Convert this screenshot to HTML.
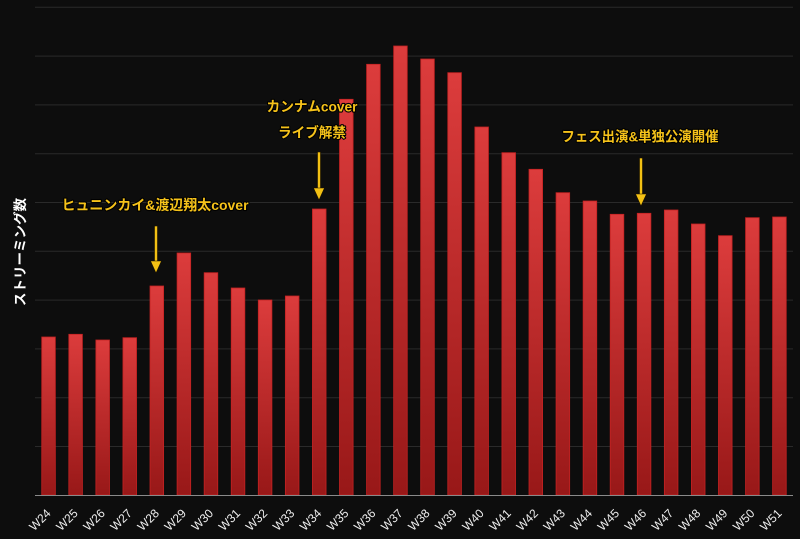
<!DOCTYPE html>
<html>
<head>
<meta charset="utf-8">
<style>
html,body{margin:0;padding:0;background:#0d0d0d;}
svg{display:block;}
</style>
</head>
<body>
<svg width="800" height="539" viewBox="0 0 800 539" xmlns="http://www.w3.org/2000/svg">
<defs>
<linearGradient id="bg" x1="0" y1="0" x2="0" y2="1">
<stop offset="0" stop-color="#dc3c3c"/>
<stop offset="1" stop-color="#981818"/>
</linearGradient>
</defs>
<rect x="0" y="0" width="800" height="539" fill="#0d0d0d"/>
<g stroke="#2a2a2a" stroke-width="1">
<line x1="35" x2="793" y1="7.3" y2="7.3"/>
<line x1="35" x2="793" y1="56.1" y2="56.1"/>
<line x1="35" x2="793" y1="104.9" y2="104.9"/>
<line x1="35" x2="793" y1="153.7" y2="153.7"/>
<line x1="35" x2="793" y1="202.5" y2="202.5"/>
<line x1="35" x2="793" y1="251.3" y2="251.3"/>
<line x1="35" x2="793" y1="300.1" y2="300.1"/>
<line x1="35" x2="793" y1="348.9" y2="348.9"/>
<line x1="35" x2="793" y1="397.7" y2="397.7"/>
<line x1="35" x2="793" y1="446.5" y2="446.5"/>
</g>
<g fill="url(#bg)" stroke="#c42222" stroke-width="0.8">
<rect x="41.74" y="337" width="13.6" height="158"/>
<rect x="68.81" y="334.3" width="13.6" height="160.7"/>
<rect x="95.88" y="340" width="13.6" height="155"/>
<rect x="122.95" y="337.7" width="13.6" height="157.3"/>
<rect x="150.02" y="286" width="13.6" height="209"/>
<rect x="177.09" y="253" width="13.6" height="242"/>
<rect x="204.16" y="272.7" width="13.6" height="222.3"/>
<rect x="231.23" y="288" width="13.6" height="207"/>
<rect x="258.30" y="300" width="13.6" height="195"/>
<rect x="285.37" y="296" width="13.6" height="199"/>
<rect x="312.44" y="209" width="13.6" height="286"/>
<rect x="339.51" y="99.3" width="13.6" height="395.7"/>
<rect x="366.58" y="64.3" width="13.6" height="430.7"/>
<rect x="393.65" y="46" width="13.6" height="449"/>
<rect x="420.72" y="59" width="13.6" height="436"/>
<rect x="447.79" y="72.7" width="13.6" height="422.3"/>
<rect x="474.86" y="127" width="13.6" height="368"/>
<rect x="501.93" y="152.7" width="13.6" height="342.3"/>
<rect x="529.00" y="169.3" width="13.6" height="325.7"/>
<rect x="556.07" y="192.7" width="13.6" height="302.3"/>
<rect x="583.14" y="201" width="13.6" height="294"/>
<rect x="610.21" y="214.3" width="13.6" height="280.7"/>
<rect x="637.28" y="213.3" width="13.6" height="281.7"/>
<rect x="664.35" y="210" width="13.6" height="285"/>
<rect x="691.42" y="224" width="13.6" height="271"/>
<rect x="718.49" y="235.7" width="13.6" height="259.3"/>
<rect x="745.56" y="217.7" width="13.6" height="277.3"/>
<rect x="772.63" y="217" width="13.6" height="278"/>
</g>
<line x1="35" x2="793" y1="495.5" y2="495.5" stroke="#8a8a8a" stroke-width="1"/>
<g font-family="Liberation Sans, sans-serif" font-size="12" fill="#eeeeee" text-anchor="end">
<text transform="translate(51.54,514) rotate(-45)">W24</text>
<text transform="translate(78.61,514) rotate(-45)">W25</text>
<text transform="translate(105.68,514) rotate(-45)">W26</text>
<text transform="translate(132.75,514) rotate(-45)">W27</text>
<text transform="translate(159.82,514) rotate(-45)">W28</text>
<text transform="translate(186.89,514) rotate(-45)">W29</text>
<text transform="translate(213.96,514) rotate(-45)">W30</text>
<text transform="translate(241.03,514) rotate(-45)">W31</text>
<text transform="translate(268.10,514) rotate(-45)">W32</text>
<text transform="translate(295.17,514) rotate(-45)">W33</text>
<text transform="translate(322.24,514) rotate(-45)">W34</text>
<text transform="translate(349.31,514) rotate(-45)">W35</text>
<text transform="translate(376.38,514) rotate(-45)">W36</text>
<text transform="translate(403.45,514) rotate(-45)">W37</text>
<text transform="translate(430.52,514) rotate(-45)">W38</text>
<text transform="translate(457.59,514) rotate(-45)">W39</text>
<text transform="translate(484.66,514) rotate(-45)">W40</text>
<text transform="translate(511.73,514) rotate(-45)">W41</text>
<text transform="translate(538.80,514) rotate(-45)">W42</text>
<text transform="translate(565.87,514) rotate(-45)">W43</text>
<text transform="translate(592.94,514) rotate(-45)">W44</text>
<text transform="translate(620.01,514) rotate(-45)">W45</text>
<text transform="translate(647.08,514) rotate(-45)">W46</text>
<text transform="translate(674.15,514) rotate(-45)">W47</text>
<text transform="translate(701.22,514) rotate(-45)">W48</text>
<text transform="translate(728.29,514) rotate(-45)">W49</text>
<text transform="translate(755.36,514) rotate(-45)">W50</text>
<text transform="translate(782.43,514) rotate(-45)">W51</text>
</g>

<text transform="translate(25,252) rotate(-90)" text-anchor="middle" font-family="Liberation Sans, Noto Sans CJK JP, sans-serif" font-weight="bold" font-size="13.5" fill="#ffffff" textLength="108" lengthAdjust="spacingAndGlyphs">ストリーミング数</text>

<g font-family="Liberation Sans, Noto Sans CJK JP, sans-serif" font-weight="bold" font-size="14" fill="#f5c21a" stroke="#000" stroke-width="2.2" paint-order="stroke" text-anchor="middle" stroke-linejoin="round">
<text x="155" y="210" textLength="187" lengthAdjust="spacingAndGlyphs">ヒュニンカイ&amp;渡辺翔太cover</text>
<text x="312" y="111.5" textLength="91" lengthAdjust="spacingAndGlyphs">カンナムcover</text>
<text x="312" y="137.5" textLength="68" lengthAdjust="spacingAndGlyphs">ライブ解禁</text>
<text x="640" y="141.5" textLength="157" lengthAdjust="spacingAndGlyphs">フェス出演&amp;単独公演開催</text>
</g>

<g fill="#f2c014" stroke="#1a1200" stroke-width="0.6">
<rect x="154.5" y="226" width="3" height="36"/>
<polygon points="150.5,261 161.5,261 156,273"/>
<rect x="317.5" y="152" width="3" height="37"/>
<polygon points="313.5,188 324.5,188 319,200"/>
<rect x="639.5" y="158" width="3" height="37"/>
<polygon points="635.5,194 646.5,194 641,206"/>
</g>
</svg>
</body>
</html>
